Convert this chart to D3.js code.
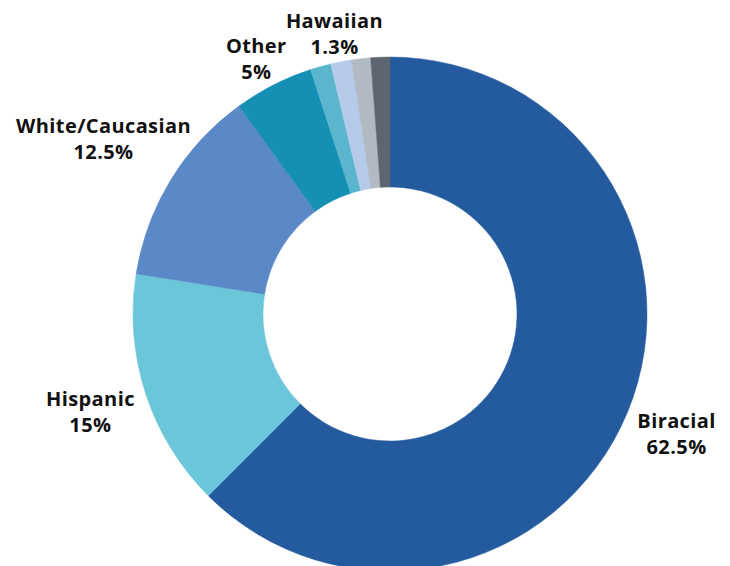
<!DOCTYPE html>
<html>
<head>
<meta charset="utf-8">
<script src="https://cdn.jsdelivr.net/npm/d3@7"></script>
<style>
  html, body { margin: 0; padding: 0; background: #ffffff; }
  svg { display: block; }
  .label { font-family: "Open Sans", "DejaVu Sans", sans-serif; font-weight: 700; font-size: 20px; letter-spacing: 0.4px; fill: #111; }
</style>
</head>
<body>
<svg id="chart"></svg>
<script>
/*    ========    DATA    =========    */

var categories = ["Biracial", "Hispanic", "White/Caucasian", "Other", "Small A", "Hawaiian", "Small C", "Small D"];
var values = [62.5, 15, 12.5, 5, 1.3, 1.3, 1.2, 1.2];
var pctLabels = ["62.5%", "15%", "12.5%", "5%", "", "1.3%", "", ""];
var colors = ["#245b9f", "#6cc6d9", "#5b88c6", "#1590b4", "#5bb6cd", "#b6caea", "#b1b9c2", "#5c6570"];

/*    ========    SETTINGS    =========    */

var width = 730;
var height = 566;
var cx = 390, cy = 314;
var R_OUT = 257, R_IN = 127;

// label radius and nudges per slice (null = no label)
var labelPos = [
    { r: 308, dx: 2, dy: -1 },
    { r: 315, dx: 0, dy: -2 },
    { r: 336, dx: 0, dy: -2 },
    { r: 288, dx: -3, dy: -1 },
    null,
    { r: 286, dx: -1, dy: -2 },
    null,
    null
];

var svg = d3.select("#chart")
    .attr("width", width)
    .attr("height", height);

/*    ========    DRAW    =========    */

var data = categories.map(function(c, i) {
    return { name: c, value: values[i], pct: pctLabels[i], color: colors[i], lp: labelPos[i] };
});

var pie = d3.pie()
    .sort(null)
    .value(function(d) { return d.value; });

var arc = d3.arc()
    .innerRadius(R_IN)
    .outerRadius(R_OUT);

var g = svg.append("g")
    .attr("transform", "translate(" + cx + "," + cy + ")");

var arcs = pie(data);

g.selectAll("path.slice")
    .data(arcs)
    .enter().append("path")
    .attr("class", "slice")
    .attr("d", arc)
    .attr("fill", function(d) { return d.data.color; })
    .attr("stroke", function(d) { return d.data.color; })
    .attr("stroke-width", 0.5);

// labels
var labs = g.selectAll("text.label")
    .data(arcs.filter(function(d) { return d.data.lp; }))
    .enter().append("text")
    .attr("class", "label")
    .attr("text-anchor", "middle")
    .attr("transform", function(d) {
        var a = (d.startAngle + d.endAngle) / 2;
        var r = d.data.lp.r;
        var x = Math.sin(a) * r + d.data.lp.dx;
        var y = -Math.cos(a) * r + d.data.lp.dy;
        return "translate(" + x + "," + y + ")";
    });

labs.append("tspan")
    .attr("x", 0)
    .attr("dy", "-0.15em")
    .text(function(d) { return d.data.name; });

labs.append("tspan")
    .attr("x", 0)
    .attr("dy", "1.3em")
    .text(function(d) { return d.data.pct; });
</script>
</body>
</html>
